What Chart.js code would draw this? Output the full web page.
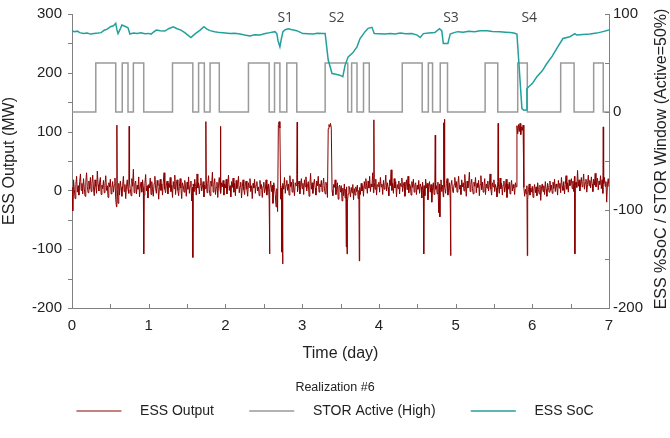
<!DOCTYPE html>
<html>
<head>
<meta charset="utf-8">
<script src="https://cdn.jsdelivr.net/npm/chart.js@4.4.0/dist/chart.umd.min.js"></script>
<style>
  body { margin: 0; background: #fff; }
  #wrap { width: 670px; height: 438px; }
</style>
</head>
<body>
<div id="wrap"><canvas id="essChart" width="670" height="438"></canvas></div>
<script>
// ESS output (MW), one sample every 0.01 day from day 0 to day 7
const outputStep = 0.01;
const essOutput = [
  5, -35, 18, 2, -14, 10, 24, -3, 8, -8, 15, 28, 0, 12, -6, 20, 4, -10, 14, 30, 6, -4, 16, 2, 22,
  -2, 12, 26, 4, -9, 18, 7, -5, 33, 10, -1, 14, 22, -7, 9, 3, 17, -4, 11, 25, 0, 8, -12, 13, 6,
  19, -6, 4, 15, -3, 9, 21, -16, -28, 2, -22, 12, -8, 16, 5, -10, 8, 24, -2, 10, -14, 6, 18, 1, -5,
  13, 3, -9, 20, 7, 36, -4, 11, 16, -6, 9, 2, 23, -11, 6, 14, -3, 18, 5, -8, 12, 27, -1, 8, -13,
  10, 4, 21, -7, 15, 1, -10, 12, 24, 3, -5, 17, 8, -15, 6, 19, 0, 11, -8, 14, 30, 2, -4, 9, 16,
  -6, 12, 5, 22, -2, 9, -12, 15, 3, 26, -7, 11, 18, 0, -9, 7, 20, 4, -14, 13, 8, -3, 17, 6, -10,
  14, 2, 23, -5, 8, 16, -18, 5, 11, -2, 19, 7, -8, 28, 4, 13, -6, 10, 21, -1, 6, 15, -11, 9, 3,
  18, -4, 12, 25, 1, -9, 16, 7, 31, -3, 10, 20, -7, 5, 14, -12, 9, 22, 2, -5, 13, 6, 17, -8, 11,
  4, 19, -6, 10, 26, 0, 8, -11, 15, 5, 21, -3, 12, -9, 17, 3, 9, 24, -4, 7, 14, -13, 6, 18, 1,
  -7, 11, 16, 2, -10, 13, 5, 20, -2, 8, -14, 12, 4, 19, -5, 9, 15, -1, 6, -9, 17, 3, 10, -12, 7,
  14, -4, 2, 18, -8, 6, 11, -15, 3, 16, -2, 9, -22, 13, 5, -7, -28, 3, -36, 112, 117, 106, -15, 4, 8,
  12, 2, 22, -5, 9, 17, 0, 11, -8, 25, 6, 14, -3, 19, 4, -9, 13, 8, 27, -2, 10, 16, -6, 5, 20,
  3, 12, -7, 18, 6, 23, -1, 9, 15, -10, 7, 29, 2, 13, -5, 10, 19, 4, -8, 16, 8, 24, -3, 11, 6,
  17, -2, 9, 21, 4, -6, 14, 8, -12, 105, 112, 108, 114, 106, 0, -9, 10, 5, 18, -7, 2, 13, -15, 6, 9,
  -3, 8, -18, 4, -9, 11, -13, 2, 6, -20, -6, 7, 1, -11, 5, -4, 10, -16, 3, -8, 6, -2, 9, -14, 0,
  5, -7, 12, -1, 8, -10, 15, 3, 20, 9, -5, 16, 4, 24, -2, 11, 6, 30, -4, 13, 2, 19, -8, 10, 7,
  14, -3, 22, 6, 11, -7, 17, 2, 9, 26, -1, 13, 5, -9, 18, 8, 35, 0, 12, -5, 20, 4, 15, -11, 10,
  3, 16, -6, 12, 7, 21, -2, 9, 14, -10, 6, 18, 1, 24, -4, 11, 8, -8, 15, 5, 19, -3, 10, 13, -7,
  9, 2, 17, -5, 11, 6, -13, 14, 0, 8, -9, 19, 4, 12, -16, 7, 15, -3, 10, -20, 5, 13, -7, 16, 2,
  8, -6, 14, -38, 11, 4, 18, -2, 9, -11, 15, 6, -5, 12, 20, -8, 3, 13, -14, 7, 17, 1, -4, 10, 22,
  5, 15, -3, 11, 24, 2, 9, -7, 18, 6, 13, -1, 27, 8, -10, 16, 4, 12, 31, -2, 10, 19, 3, -6, 14,
  7, 22, -4, 12, 5, 17, -9, 10, 25, 1, 14, -3, 8, 20, -7, 11, 4, 16, -1, 9, 28, 2, -8, 13, 6,
  18, -2, 10, 4, -11, 15, 7, -5, 21, 3, 12, -8, 9, 16, -3, 6, 19, -12, 11, 2, 14, -6, 8, 17, -1,
  10, 4, -7, 13, 6, 110, 96, 112, 100, 114, 95, 108, 102, 111, 5, -10, 2, -6, 8, -15, 1, 11, -8, 4, -3,
  7, -12, 3, 10, -4, 6, -9, 13, 1, -6, 9, -17, 4, 11, -2, 8, -7, 15, 2, -10, 12, 5, -3, 16, 0,
  9, -5, 14, 3, 19, -2, 11, 6, -8, 17, 4, 12, -4, 22, 7, 0, 15, -6, 10, 25, 2, 13, -3, 18, 8,
  12, 20, 3, 16, -2, 24, 9, 14, 5, 34, 7, 18, -1, 11, 22, 6, 15, 28, 2, 13, 19, -3, 10, 26, 8,
  17, 4, 23, 11, -2, 19, 9, 29, 6, 14, 21, 1, 16, 10, 25, 3, 18, -5, 12, 22, 7, 15, -20, 11, 20,
  6
];

// short single-sample spikes in between the regular samples
const spikeDays = [0.585, 0.745, 0.935, 1.575, 1.745, 1.935, 2.575, 2.735, 2.745, 2.935, 3.575, 3.585,
  3.745, 3.935, 4.585, 4.735, 4.795, 4.845, 4.855, 4.935, 5.555, 5.935, 6.555, 6.925];
const spikeValues = [111, 109, -108, -114, 117, 109, -108, -105, -125, 116, -96, -108,
  -120, 120, -108, 94, -45, 115, 121, -111, 114, -111, -108, 108];

// STOR window, 50 = active
const storDays = [0, 0.31, 0.57, 0.655, 0.73, 0.80, 0.935, 1.31, 1.575, 1.65, 1.725, 1.80, 1.92,
  2.30, 2.57, 2.64, 2.71, 2.80, 2.93, 3.30, 3.595, 3.645, 3.715, 3.80, 3.875, 4.305, 4.565,
  4.645, 4.70, 4.80, 4.895, 5.385, 5.55, 5.81, 5.935, 6.37, 6.545, 6.80, 6.925, 7];
const storValues = [0, 50, 0, 50, 0, 50, 0, 50, 0, 50, 0, 50, 0,
  50, 0, 50, 0, 50, 0, 50, 0, 50, 0, 50, 0, 50, 0,
  50, 0, 50, 0, 50, 0, 50, 0, 50, 0, 50, 0, 0];

// state of charge (%)
const socDays = [0, 0.03, 0.07, 0.10, 0.15, 0.20, 0.24, 0.29, 0.34, 0.38, 0.42, 0.46, 0.50, 0.54, 0.57,
  0.585, 0.60, 0.625, 0.65, 0.69, 0.73, 0.755, 0.80, 0.85, 0.90, 0.95, 1.00, 1.03, 1.07, 1.10,
  1.15, 1.21, 1.26, 1.32, 1.37, 1.42, 1.47, 1.51, 1.55, 1.60, 1.67, 1.72, 1.76, 1.80, 1.86,
  1.93, 2.00, 2.06, 2.12, 2.19, 2.25, 2.32, 2.38, 2.45, 2.52, 2.58, 2.645, 2.67, 2.685, 2.71,
  2.73, 2.75, 2.78, 2.82, 2.87, 2.93, 2.97, 3.01, 3.08, 3.14, 3.20, 3.27, 3.30, 3.34, 3.39,
  3.44, 3.49, 3.53, 3.56, 3.60, 3.66, 3.715, 3.755, 3.82, 3.86, 3.91, 3.94, 4.00, 4.08, 4.15,
  4.21, 4.28, 4.35, 4.43, 4.50, 4.54, 4.58, 4.65, 4.73, 4.79, 4.82, 4.84, 4.90, 4.93, 4.98,
  5.03, 5.10, 5.17, 5.25, 5.32, 5.41, 5.48, 5.58, 5.65, 5.71, 5.76, 5.80, 5.865, 5.89, 5.92,
  5.93, 6.00, 6.06, 6.13, 6.19, 6.26, 6.32, 6.40, 6.49, 6.555, 6.58, 6.66, 6.75, 6.84, 6.92, 7.00];
const socValues = [83, 82, 82.5, 81, 80, 80.5, 79.5, 80, 80.5, 81, 83.5, 84.5, 87, 88, 90.5,
  84, 80, 84, 88.7, 87.5, 86, 79.5, 80.5, 80, 80.8, 79.8, 80.2, 79.5, 82, 83.6,
  82.8, 82.6, 85, 87, 85, 83.6, 81, 78.5, 76, 79.5, 83.6, 87, 84.5, 83, 82,
  81, 80.5, 80, 80.3, 79.5, 78.5, 77.5, 78.8, 78.5, 80, 81, 82, 80, 73, 66.5,
  75, 82, 84, 85, 84, 83, 81.5, 80, 79.8, 79.5, 80.3, 80, 80, 53, 39.3,
  38.5, 37.6, 36, 47.8, 56.3, 60.4, 66.5, 75, 82, 85.4, 86.4, 80, 79.8, 79.5, 80.2,
  79.5, 80.5, 79.8, 80, 78.5, 76, 80, 80.5, 81, 85, 83, 70, 70, 79.5, 81,
  82, 81.5, 82.5, 82, 82.8, 83, 82.2, 82, 81.5, 81, 80.5, 79.5, 3.5, 1.7, 2,
  24, 29, 36, 42, 49.5, 57, 65, 75, 76.8, 80, 78.5, 79, 79.5, 80.5, 82, 83.6];

const eventLabels = ['S1', 'S2', 'S3', 'S4'];
const eventDays = [2.78, 3.45, 4.94, 5.96];

const FONT = "'Liberation Sans', Arial, sans-serif";
const AXIS_GREY = '#808080';
const TEXT = '#222';

function toPoints(xs, ys) {
  return xs.map((x, i) => ({x: x, y: ys[i]}));
}

function outputPoints() {
  const pts = essOutput.map((v, i) => ({x: Math.round(i * outputStep * 1000) / 1000, y: v}));
  spikeDays.forEach((d, i) => pts.push({x: d, y: spikeValues[i]}));
  pts.sort((a, b) => a.x - b.x);
  return pts;
}

// the y axes get a fixed width and no extra label padding above/below
function fixWidth(w) {
  return s => { s.width = w; s.paddingTop = 0; s.paddingBottom = 0; };
}

// inward/outward tick marks, event labels and the right-hand title
const extras = {
  id: 'extras',
  afterDraw(chart) {
    const {ctx, chartArea, scales} = chart;
    ctx.save();
    ctx.strokeStyle = AXIS_GREY;
    ctx.lineWidth = 1;
    ctx.beginPath();
    scales.x.ticks.forEach(t => {
      const px = Math.round(scales.x.getPixelForValue(t.value)) + 0.5;
      ctx.moveTo(px, chartArea.bottom);
      ctx.lineTo(px, chartArea.bottom - 4);
    });
    scales.y.ticks.forEach(t => {
      const py = Math.round(scales.y.getPixelForValue(t.value)) + 0.5;
      ctx.moveTo(chartArea.left, py);
      ctx.lineTo(chartArea.left - 4, py);
    });
    scales.y2.ticks.forEach(t => {
      const py = Math.round(scales.y2.getPixelForValue(t.value)) + 0.5;
      ctx.moveTo(chartArea.right, py);
      ctx.lineTo(chartArea.right - 4, py);
    });
    ctx.stroke();

    ctx.fillStyle = '#444';
    ctx.font = "14px 'Open Sans', sans-serif";
    ctx.textAlign = 'center';
    ctx.textBaseline = 'middle';
    eventLabels.forEach((s, i) => {
      ctx.fillText(s, scales.x.getPixelForValue(eventDays[i]), chartArea.top + 4);
    });

    ctx.fillStyle = TEXT;
    ctx.font = '16px ' + FONT;
    ctx.translate(662, (chartArea.top + chartArea.bottom) / 2 - 2);
    ctx.rotate(-Math.PI / 2);
    ctx.fillText('ESS %SoC / STOR Window (Active=50%)', 0, 0);
    ctx.restore();
  }
};

const ctx = document.getElementById('essChart').getContext('2d');
new Chart(ctx, {
  type: 'line',
  data: {
    datasets: [{
      label: 'ESS Output',
      data: outputPoints(),
      yAxisID: 'y',
      borderColor: '#8b0000',
      backgroundColor: '#8b0000',
      borderWidth: 1,
      pointRadius: 0,
      order: 2
    }, {
      label: 'STOR Active (High)',
      data: toPoints(storDays, storValues),
      yAxisID: 'y2',
      stepped: true,
      borderColor: '#9a9a9a',
      backgroundColor: '#9a9a9a',
      borderWidth: 1.5,
      pointRadius: 0,
      order: 1
    }, {
      label: 'ESS SoC',
      data: toPoints(socDays, socValues),
      yAxisID: 'y2',
      borderColor: '#22a09c',
      backgroundColor: '#22a09c',
      borderWidth: 1.5,
      pointRadius: 0,
      order: 0
    }]
  },
  options: {
    responsive: false,
    animation: false,
    devicePixelRatio: 1,
    events: [],
    layout: {padding: {top: 14, bottom: 10}},
    scales: {
      x: {
        type: 'linear', min: 0, max: 7,
        afterFit: s => { s.height = 73; },
        border: {color: AXIS_GREY},
        grid: {drawOnChartArea: false, drawTicks: false},
        ticks: {stepSize: 0.5, autoSkip: false, padding: 9, color: TEXT, font: {family: FONT, size: 15},
          maxRotation: 0, callback: v => Number.isInteger(v) ? v : ''},
        title: {display: true, text: 'Time (day)', color: TEXT, font: {family: FONT, size: 16}, padding: {top: 4, bottom: 18}}
      },
      y: {
        position: 'left', min: -200, max: 300,
        afterFit: fixWidth(72),
        border: {color: AXIS_GREY},
        grid: {drawOnChartArea: false, drawTicks: false},
        ticks: {stepSize: 50, autoSkip: false, padding: 10, color: TEXT, font: {family: FONT, size: 15},
          callback: v => v % 100 === 0 ? v : ''},
        title: {display: true, text: 'ESS Output (MW)', color: TEXT, font: {family: FONT, size: 16}, padding: 0}
      },
      y2: {
        position: 'right', min: -200, max: 100,
        afterFit: fixWidth(61),
        border: {color: AXIS_GREY},
        grid: {drawOnChartArea: false, drawTicks: false},
        ticks: {stepSize: 50, autoSkip: false, padding: 4, color: TEXT, font: {family: FONT, size: 15},
          callback: v => v % 100 === 0 ? v : ''}
      }
    },
    plugins: {
      tooltip: {enabled: false},
      legend: {
        position: 'bottom',
        title: {display: true, text: 'Realization #6', color: TEXT, font: {family: FONT, size: 12.5}, padding: {top: 0, bottom: 0}},
        labels: {
          usePointStyle: true,
          pointStyle: 'line',
          pointStyleWidth: 45,
          padding: 8,
          color: TEXT,
          font: {family: FONT, size: 14},
          sort: (a, b) => a.datasetIndex - b.datasetIndex,
          generateLabels: chart => {
            const items = Chart.defaults.plugins.legend.labels.generateLabels(chart);
            const last = chart.data.datasets.length - 1;
            return items.map(l => Object.assign(l, {
              text: '   ' + l.text + (l.datasetIndex < last ? '       ' : '')
            }));
          }
        }
      }
    }
  },
  plugins: [extras]
});
</script>
</body>
</html>
